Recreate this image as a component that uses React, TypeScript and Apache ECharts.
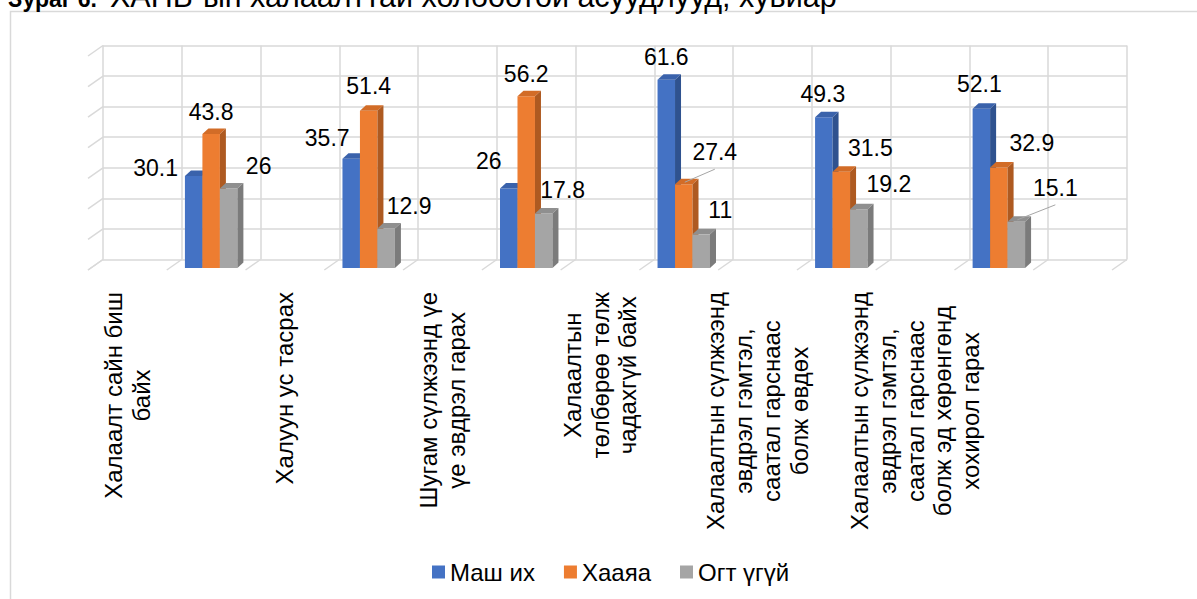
import React, { useEffect, useRef } from "react";
import * as echarts from "echarts";

const CATEGORIES: string[] = [
  "Халаалт сайн биш\nбайх",
  "",
  "Халуун ус тасрах",
  "",
  "Шугам сүлжээнд үе\nүе эвдрэл гарах",
  "",
  "Халаалтын\nтөлбөрөө төлж\nчадахгүй байх",
  "",
  "Халаалтын сүлжээнд\nэвдрэл гэмтэл,\nсаатал гарснаас\nболж өвдөх",
  "",
  "Халаалтын сүлжээнд\nэвдрэл гэмтэл,\nсаатал гарснаас\nболж эд хөрөнгөнд\nхохирол гарах",
  "",
  "",
];
const SERIES_NAMES = ["Маш их", "Хааяа", "Огт үгүй"];
const MASH_IH = [null, 30.1, null, 35.7, null, 26, null, 61.6, null, 49.3, null, 52.1, null];
const HAAYA = [null, 43.8, null, 51.4, null, 56.2, null, 27.4, null, 31.5, null, 32.9, null];
const OGT_UGUI = [null, 26, null, 12.9, null, 17.8, null, 11, null, 19.2, null, 15.1, null];
const Y_TICKS = [0, 10, 20, 30, 40, 50, 60, 70];
const TITLE_BOLD = "Зураг 6.";
const TITLE_REST = "ХАНБ-ын халаалттай холбоотой асуудлууд, хувиар";

const FONT = "'Liberation Sans', Arial, sans-serif";
const FS_AXIS = 24;
const FS_LABEL = 23;
const GRID_COLOR = "#d9d9d9";
const FACE_COLORS = [
  { front: "#4472C4", top: "#3A62AB", side: "#2F528F" },
  { front: "#ED7D31", top: "#D26C27", side: "#AE5A21" },
  { front: "#A5A5A5", top: "#8F8F8F", side: "#7B7B7B" },
];
// label placement relative to bar-top centre (style only)
const LABEL_OFFSETS = [
  [[-38, -8], [-24, -21], [-20, -28], [0, -23], [-1, -23], [-2, -25]],
  [[0, -22], [0, -25], [0, -22], [31, -32], [29, -24], [33, -24]],
  [[30, -23], [23, -23], [19, -24], [19, -24], [30, -25], [39, -34]],
];
const LEADERS = [
  [false, false, false, false, false, false],
  [false, false, false, true, false, false],
  [false, false, false, false, false, true],
];

const DEPTH_X = 15;
const DEPTH_Y = -10.5;

function toData(values: (number | null)[]) {
  return values
    .map((v, i) => (v == null ? null : [i, v]))
    .filter((d) => d !== null) as number[][];
}

function makeBarRender(s: number) {
  return (params: any, api: any) => {
    const i = api.value(0);
    const v = api.value(1);
    const top = api.coord([i, v]);
    const base = api.coord([i, 0]);
    const bw = api.size([1, 0])[0];
    const w = bw * 0.222;
    const x = top[0] + 5 - 1.5 * w + s * w;
    const yT = top[1] - 2;
    const yB = base[1] - 2;
    const d = 6;
    const dv = 5.5;
    const k = params.dataIndex;
    const off = LABEL_OFFSETS[s][k] || [0, -23];
    const cx = x + w / 2;
    const lx = cx + off[0];
    const ly = yT + off[1];
    const c = FACE_COLORS[s];
    const children: any[] = [
      { type: "rect", shape: { x, y: yT, width: w, height: yB - yT }, style: { fill: c.front } },
      {
        type: "polygon",
        shape: { points: [[x, yT], [x + d, yT - dv], [x + w + d, yT - dv], [x + w, yT]] },
        style: { fill: c.top },
      },
      {
        type: "polygon",
        shape: { points: [[x + w, yT], [x + w + d, yT - dv], [x + w + d, yB - dv], [x + w, yB]] },
        style: { fill: c.side },
      },
      {
        type: "text",
        z2: 100,
        style: {
          text: String(v),
          x: lx,
          y: ly,
          fill: "#000",
          fontSize: FS_LABEL,
          fontFamily: FONT,
          align: "center",
          verticalAlign: "middle",
        },
      },
    ];
    if (LEADERS[s][k]) {
      children.push({
        type: "line",
        z2: 99,
        shape: { x1: lx, y1: ly + 17, x2: cx + 1, y2: yT - 2 },
        style: { stroke: "#a6a6a6", lineWidth: 1 },
      });
    }
    return { type: "group", children };
  };
}

export default function App() {
  const ref = useRef<HTMLDivElement>(null);
  useEffect(() => {
    if (!ref.current) return;
    const chart = echarts.init(ref.current, undefined, { renderer: "svg" });
    const seriesValues = [MASH_IH, HAAYA, OGT_UGUI];
    const option: any = {
      animation: false,
      backgroundColor: "#fff",
      textStyle: { fontFamily: FONT },
      grid: [
        { left: 103, top: 45.5, width: 1024, height: 214 },
        { left: 88, top: 56, width: 1024, height: 214 },
      ],
      xAxis: [
        {
          type: "value",
          gridIndex: 0,
          min: 0,
          max: CATEGORIES.length,
          interval: 1,
          axisLine: { show: false },
          axisTick: { show: false },
          axisLabel: { show: false },
          splitLine: { show: true, lineStyle: { color: GRID_COLOR, width: 1.5 } },
        },
        {
          type: "category",
          gridIndex: 1,
          data: CATEGORIES,
          boundaryGap: true,
          axisLine: { show: false },
          axisTick: { show: false },
          splitLine: { show: false },
          axisLabel: {
            interval: 0,
            rotate: 90,
            margin: 22,
            color: "#000",
            fontSize: FS_AXIS,
            fontFamily: FONT,
            formatter: (val: string) =>
              val ? val.split("\n").map((l) => "{c|" + l + "}").join("\n") : "",
            rich: {
              c: { align: "center", fontSize: FS_AXIS, fontFamily: FONT, lineHeight: 27.7, color: "#000" },
            },
          },
        },
      ],
      yAxis: [
        {
          type: "value",
          gridIndex: 0,
          min: 0,
          max: 70,
          interval: 10,
          axisLine: { show: false },
          axisTick: { show: false },
          axisLabel: { show: false },
          splitLine: { show: true, lineStyle: { color: GRID_COLOR, width: 1.5 } },
        },
        { type: "value", gridIndex: 1, min: 0, max: 70, interval: 10, show: false },
      ],
      legend: {
        data: SERIES_NAMES,
        left: 427,
        top: 555,
        icon: "rect",
        itemWidth: 13,
        itemHeight: 13,
        itemGap: 29,
        textStyle: { fontSize: FS_AXIS, fontFamily: FONT, color: "#000" },
      },
      graphic: [
        {
          type: "rect",
          z: -10,
          shape: { x: 10.5, y: 11.5, width: 1400, height: 800 },
          style: { fill: "none", stroke: GRID_COLOR, lineWidth: 1.5 },
        },
        {
          type: "text",
          x: 8,
          y: -1,
          style: {
            text: TITLE_BOLD,
            fontWeight: "bold",
            fontSize: 23,
            fontFamily: FONT,
            fill: "#000",
            verticalAlign: "middle",
          },
        },
        {
          type: "text",
          x: 110,
          y: -4,
          style: {
            text: TITLE_REST,
            fontSize: 30.5,
            fontFamily: FONT,
            fill: "#000",
            verticalAlign: "middle",
          },
        },
      ],
      series: [
        {
          type: "custom",
          name: "floor",
          xAxisIndex: 1,
          yAxisIndex: 1,
          silent: true,
          data: CATEGORIES.map((_, i) => [i, 0]),
          renderItem: (params: any, api: any) => {
            const i = api.value(0);
            const c = api.coord([i, 0]);
            const bw = api.size([1, 0])[0];
            const x0 = c[0] - bw / 2;
            const lines: any[] = [
              {
                type: "line",
                shape: { x1: x0, y1: c[1], x2: x0 + DEPTH_X, y2: c[1] + DEPTH_Y },
                style: { stroke: GRID_COLOR, lineWidth: 1.5 },
              },
            ];
            if (i === CATEGORIES.length - 1) {
              lines.push({
                type: "line",
                shape: { x1: x0 + bw, y1: c[1], x2: x0 + bw + DEPTH_X, y2: c[1] + DEPTH_Y },
                style: { stroke: GRID_COLOR, lineWidth: 1.5 },
              });
            }
            return { type: "group", children: lines };
          },
        },
        {
          type: "custom",
          name: "wall",
          xAxisIndex: 1,
          yAxisIndex: 1,
          silent: true,
          data: Y_TICKS.map((v) => [0, v]),
          renderItem: (params: any, api: any) => {
            const c = api.coord([0, api.value(1)]);
            const bw = api.size([1, 0])[0];
            const x0 = c[0] - bw / 2;
            return {
              type: "line",
              shape: { x1: x0, y1: c[1], x2: x0 + DEPTH_X, y2: c[1] + DEPTH_Y },
              style: { stroke: GRID_COLOR, lineWidth: 1.5 },
            };
          },
        },
        ...seriesValues.map((vals, s) => ({
          type: "custom",
          name: SERIES_NAMES[s],
          xAxisIndex: 1,
          yAxisIndex: 1,
          itemStyle: { color: FACE_COLORS[s].front },
          data: toData(vals),
          renderItem: makeBarRender(s),
        })),
      ],
    };
    chart.setOption(option);
    return () => chart.dispose();
  }, []);
  return (
    <div
      ref={ref}
      style={{ position: "fixed", left: 0, top: 0, width: 1197, height: 599, background: "#fff" }}
    />
  );
}
